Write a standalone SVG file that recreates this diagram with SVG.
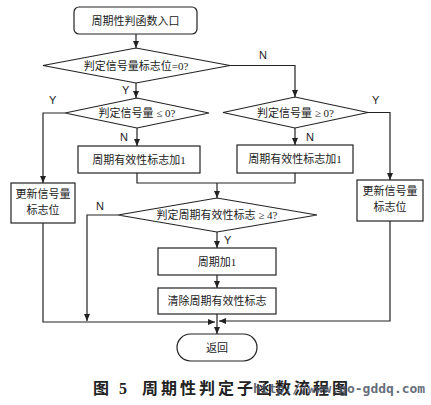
<svg xmlns="http://www.w3.org/2000/svg" width="431" height="405" viewBox="0 0 431 405">
<style>
.s{fill:#fff;stroke:#222;stroke-width:1.2}
.c{fill:none;stroke:#222;stroke-width:1.2}
.t{font-family:"Liberation Serif","Noto Sans CJK SC",serif;font-size:11px;fill:#222;text-anchor:middle}
.l{font-family:"Liberation Sans",Arial,sans-serif;font-size:11px;fill:#222}
.cap{font-family:"Liberation Serif","Noto Sans CJK SC",serif;font-size:16px;font-weight:bold;fill:#222;letter-spacing:3px}
.wm{font-family:"DejaVu Sans Mono",monospace;font-size:13px;font-weight:bold;fill:#4c5464;opacity:0.85}
</style>
<defs>
<marker id="a" markerWidth="7" markerHeight="6" refX="7" refY="3" orient="auto" markerUnits="userSpaceOnUse">
<path d="M0,0 L7,3 L0,6 Z" fill="#222"/>
</marker>
</defs>
<g id="connectors">
<path class="c" d="M136,34 V48" marker-end="url(#a)"/>
<path class="c" d="M136,83 V98" marker-end="url(#a)"/>
<path class="c" d="M230,65.5 H295 V97" marker-end="url(#a)"/>
<path class="c" d="M65,113 H43 V183" marker-end="url(#a)"/>
<path class="c" d="M137,128 V146" marker-end="url(#a)"/>
<path class="c" d="M295,128 V145" marker-end="url(#a)"/>
<path class="c" d="M368,112.5 H390 V180" marker-end="url(#a)"/>
<path class="c" d="M137,173 V183 H295 V173"/>
<path class="c" d="M217,183 V198" marker-end="url(#a)"/>
<path class="c" d="M118,215 H87 V321" marker-end="url(#a)"/>
<path class="c" d="M217,232 V248" marker-end="url(#a)"/>
<path class="c" d="M217,275 V288" marker-end="url(#a)"/>
<path class="c" d="M217,314 V334" marker-end="url(#a)"/>
<path class="c" d="M43,223 V322 H215" marker-end="url(#a)"/>
<path class="c" d="M390,221 V321 H219" marker-end="url(#a)"/>
<text class="l" x="122" y="94">Y</text>
<text class="l" x="259" y="59">N</text>
<text class="l" x="49" y="104">Y</text>
<text class="l" x="372" y="104">Y</text>
<text class="l" x="120" y="141">N</text>
<text class="l" x="306" y="141">N</text>
<text class="l" x="96" y="210">N</text>
<text class="l" x="224" y="244">Y</text>
</g>
<g id="start">
<rect class="s" x="74" y="7" width="123" height="27" rx="5"/>
<text class="t" x="135.5" y="24.5">周期性判函数入口</text>
</g>
<g id="d1">
<polygon class="s" points="43,65.5 136,48 230,65.5 136,83"/>
<text class="t" x="136" y="69.5">判定信号量标志位=0?</text>
</g>
<g id="dl">
<polygon class="s" points="65,113 137,98 209,113 137,128"/>
<text class="t" x="137" y="117">判定信号量 ≤ 0?</text>
</g>
<g id="dr">
<polygon class="s" points="223,112.5 295,97 368,112.5 295,128"/>
<text class="t" x="295.5" y="116.5">判定信号量 ≥ 0?</text>
</g>
<g id="bl1">
<rect class="s" x="78" y="146" width="122" height="27"/>
<text class="t" x="139" y="163.5">周期有效性标志加1</text>
</g>
<g id="br1">
<rect class="s" x="237" y="145" width="116" height="28"/>
<text class="t" x="295" y="163">周期有效性标志加1</text>
</g>
<g id="updl">
<rect class="s" x="11" y="183" width="64" height="40"/>
<text class="t" x="43" y="198">更新信号量</text>
<text class="t" x="43" y="214">标志位</text>
</g>
<g id="updr">
<rect class="s" x="357" y="180" width="66" height="41"/>
<text class="t" x="390" y="195">更新信号量</text>
<text class="t" x="390" y="211">标志位</text>
</g>
<g id="d4">
<polygon class="s" points="118,215 217,198 317,215 217,232"/>
<text class="t" x="217" y="219">判定周期有效性标志 ≥ 4?</text>
</g>
<g id="inc">
<rect class="s" x="158" y="248" width="118" height="27"/>
<text class="t" x="217" y="265.5">周期加1</text>
</g>
<g id="clr">
<rect class="s" x="158" y="288" width="118" height="26"/>
<text class="t" x="217" y="305">清除周期有效性标志</text>
</g>
<g id="ret">
<rect class="s" x="177" y="334" width="80" height="27" rx="13.5"/>
<text class="t" x="217" y="351.5">返回</text>
</g>
<g id="caption">
<text class="cap" x="93" y="394">图 5</text>
<text class="cap" x="142" y="394">周期性判定子函数流程图</text>
<text class="wm" x="253" y="393">http://www.go-gddq.com</text>
</g>
</svg>
